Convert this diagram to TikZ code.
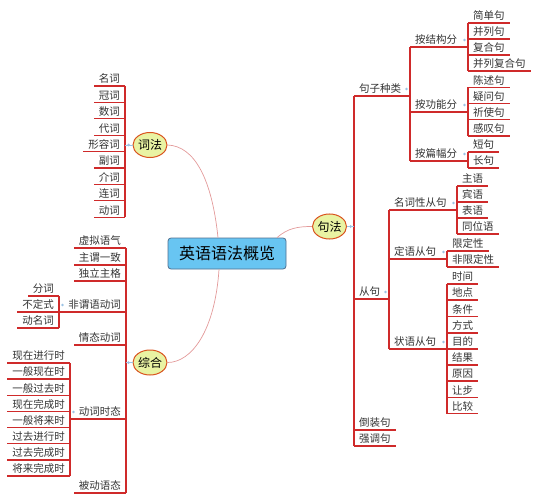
\documentclass[tikz,border=0pt]{standalone}
\usepackage{fontspec}
\setmainfont{Noto Sans CJK SC}
\usetikzlibrary{shapes.geometric,calc}
\definecolor{ulc}{HTML}{CF2A2A}
\definecolor{crv}{HTML}{E39A9A}
\definecolor{elf}{HTML}{E9F3A3}
\definecolor{eld}{HTML}{D9531E}
\definecolor{boxf}{HTML}{68C5F2}
\definecolor{boxd}{HTML}{4F6F8F}
\definecolor{dotc}{HTML}{9CC3E5}
\definecolor{txt}{HTML}{333333}
\tikzset{
  base/.style={font=\fontsize{10.5}{12}\selectfont, text=txt, inner xsep=5pt, inner ysep=1.5pt, text height=8pt, text depth=1.5pt},
  rnode/.style={base, anchor=south west},
  lnode/.style={base, anchor=south east},
  uline/.style={draw=ulc, line width=1.1pt},
  curve/.style={draw=crv, line width=0.7pt},
  branch/.style={ellipse, draw=eld, fill=elf, line width=1pt, minimum width=34pt, minimum height=25pt, inner sep=0pt, font=\fontsize{12}{14}\selectfont, text=black},
  root/.style={rectangle, rounded corners=3pt, draw=boxd, fill=boxf, line width=0.8pt, minimum width=118pt, minimum height=31pt, font=\fontsize{16}{18}\selectfont, text=black},
  link/.style={draw=dotc, line width=0.8pt},
}
\begin{document}
\begin{tikzpicture}[x=1pt,y=-1pt]
\useasboundingbox (0,0) rectangle (538,500);
% main nodes
\node[root] (box) at (227,253.5) {英语语法概览};
\node[branch] (cf) at (150,145) {词法};
\node[branch] (zh) at (150,362.5) {综合};
\node[branch] (jf) at (329.5,226.5) {句法};
\draw[curve] ([xshift=-9pt]box.north) .. controls (212,180) and (195,146) .. (cf.east);
\draw[curve] ([xshift=-8pt]box.south) .. controls (215,330) and (192,362.5) .. (zh.east);
\draw[curve] ([xshift=50pt]box.north) .. controls (288,228) and (298,226.5) .. (jf.west);

% ---------- right side ----------
\node[rnode] (jzzl) at (354,96) {句子种类};
\node[rnode] (cj) at (354,299) {从句};
\node[rnode] (dzj) at (354,430) {倒装句};
\node[rnode] (qdj) at (354,446) {强调句};
\node[rnode] (ajg) at (410,47) {按结构分};
\node[rnode] (agn) at (410,112) {按功能分};
\node[rnode] (apf) at (410,161) {按篇幅分};
\node[rnode] (jdj) at (468,23) {简单句};
\node[rnode] (blj) at (468,39) {并列句};
\node[rnode] (fhj) at (468,55) {复合句};
\node[rnode] (blfhj) at (468,71) {并列复合句};
\node[rnode] (csj) at (468,87.5) {陈述句};
\node[rnode] (ywj) at (468,103.5) {疑问句};
\node[rnode] (qsj) at (468,119.5) {祈使句};
\node[rnode] (gtj) at (468,136) {感叹句};
\node[rnode] (dj) at (468,152) {短句};
\node[rnode] (cjj) at (468,168) {长句};
\node[rnode] (mcx) at (389,210) {名词性从句};
\node[rnode] (dyc) at (389,259) {定语从句};
\node[rnode] (zyc) at (389,349) {状语从句};
\node[rnode] (zy) at (457,186) {主语};
\node[rnode] (by) at (457,202) {宾语};
\node[rnode] (bby) at (457,218) {表语};
\node[rnode] (twy) at (457,234) {同位语};
\node[rnode] (xdx) at (447,251) {限定性};
\node[rnode] (fxdx) at (447,267) {非限定性};
\node[rnode] (sj) at (447,284) {时间};
\node[rnode] (dd) at (447,300) {地点};
\node[rnode] (tj) at (447,316.5) {条件};
\node[rnode] (fs) at (447,333) {方式};
\node[rnode] (md) at (447,349) {目的};
\node[rnode] (jg) at (447,365) {结果};
\node[rnode] (yy) at (447,381) {原因};
\node[rnode] (rb) at (447,397.5) {让步};
\node[rnode] (bj) at (447,413.5) {比较};
% leaf underlines
\foreach \n in {dzj,qdj,jdj,blj,fhj,blfhj,csj,ywj,qsj,gtj,dj,cjj,zy,by,bby,twy,xdx,fxdx,sj,dd,tj,fs,md,jg,yy,rb,bj}
  \draw[uline] (\n.south west) -- (\n.south east);
% parent underlines
\draw[uline] (jzzl.south west) -- (jzzl.south west -| ajg.south west);
\draw[uline] (cj.south west) -- (cj.south west -| mcx.south west);
\draw[uline] (ajg.south west) -- (ajg.south west -| jdj.south west);
\draw[uline] (agn.south west) -- (agn.south west -| csj.south west);
\draw[uline] (apf.south west) -- (apf.south west -| dj.south west);
\draw[uline] (mcx.south west) -- (mcx.south west -| zy.south west);
\draw[uline] (dyc.south west) -- (dyc.south west -| xdx.south west);
\draw[uline] (zyc.south west) -- (zyc.south west -| sj.south west);
% spines
\draw[uline] (jzzl.south west) -- (qdj.south west);
\draw[uline] (ajg.south west) -- (apf.south west);
\draw[uline] (jdj.south west) -- (blfhj.south west);
\draw[uline] (csj.south west) -- (gtj.south west);
\draw[uline] (dj.south west) -- (cjj.south west);
\draw[uline] (mcx.south west) -- (zyc.south west);
\draw[uline] (zy.south west) -- (twy.south west);
\draw[uline] (xdx.south west) -- (fxdx.south west);
\draw[uline] (sj.south west) -- (bj.south west);
% dots
\foreach \c/\p in {ajg/jzzl, mcx/cj, jdj/ajg, csj/agn, dj/apf, zy/mcx, xdx/dyc, sj/zyc}
  \fill[dotc] ($(\p.south west -| \c.south west)+(-3.5,-7)$) circle (1.3);
\coordinate (jfs) at (jf.west -| jzzl.south west);
\draw[link] (jf.east) -- (jf.east -| jzzl.south west);
\fill[dotc] ($(jf.east)+(3.5,0)$) circle (1.5);

% ---------- left side: 词法 ----------
\node[lnode] (mc) at (125,86) {名词};
\node[lnode] (gc) at (125,102.4) {冠词};
\node[lnode] (sc) at (125,118.8) {数词};
\node[lnode] (dc) at (125,135.2) {代词};
\node[lnode] (xrc) at (125,151.6) {形容词};
\node[lnode] (fc) at (125,168) {副词};
\node[lnode] (jc) at (125,184.4) {介词};
\node[lnode] (lc) at (125,200.8) {连词};
\node[lnode] (dongc) at (125,217.2) {动词};
\foreach \n in {mc,gc,sc,dc,xrc,fc,jc,lc,dongc}
  \draw[uline] (\n.south east) -- (\n.south west);
\draw[uline] (mc.south east) -- (dongc.south east);
\draw[link] (cf.west) -- (cf.west -| mc.south east);
\fill[dotc] ($(cf.west)+(-4,0)$) circle (1.5);

% ---------- left side: 综合 ----------
\node[lnode] (xnyq) at (126,248) {虚拟语气};
\node[lnode] (zwyz) at (126,265) {主谓一致};
\node[lnode] (dlzg) at (126,281) {独立主格};
\node[lnode] (fwy) at (126,312) {非谓语动词};
\node[lnode] (qtdc) at (126,345) {情态动词};
\node[lnode] (dcst) at (126,419) {动词时态};
\node[lnode] (bdyt) at (126,493) {被动语态};
\node[lnode] (fenci) at (59,296) {分词};
\node[lnode] (bds) at (59,312) {不定式};
\node[lnode] (dmc) at (59,328) {动名词};
\node[lnode] (t1) at (70,363) {现在进行时};
\node[lnode] (t2) at (70,379) {一般现在时};
\node[lnode] (t3) at (70,395.5) {一般过去时};
\node[lnode] (t4) at (70,411.5) {现在完成时};
\node[lnode] (t5) at (70,427.5) {一般将来时};
\node[lnode] (t6) at (70,443.5) {过去进行时};
\node[lnode] (t7) at (70,460) {过去完成时};
\node[lnode] (t8) at (70,476) {将来完成时};
\foreach \n in {xnyq,zwyz,dlzg,qtdc,bdyt,fenci,bds,dmc,t1,t2,t3,t4,t5,t6,t7,t8}
  \draw[uline] (\n.south east) -- (\n.south west);
\draw[uline] (fwy.south east) -- (fwy.south east -| fenci.south east);
\draw[uline] (dcst.south east) -- (dcst.south east -| t1.south east);
\draw[uline] (xnyq.south east) -- (bdyt.south east);
\draw[uline] (fenci.south east) -- (dmc.south east);
\draw[uline] (t1.south east) -- (t8.south east);
\foreach \c/\p in {fenci/fwy, t1/dcst}
  \fill[dotc] ($(\p.south east -| \c.south east)+(3.5,-7)$) circle (1.3);
\draw[link] (zh.west) -- (zh.west -| xnyq.south east);
\fill[dotc] ($(zh.west)+(-4,0)$) circle (1.5);
\end{tikzpicture}
\end{document}
